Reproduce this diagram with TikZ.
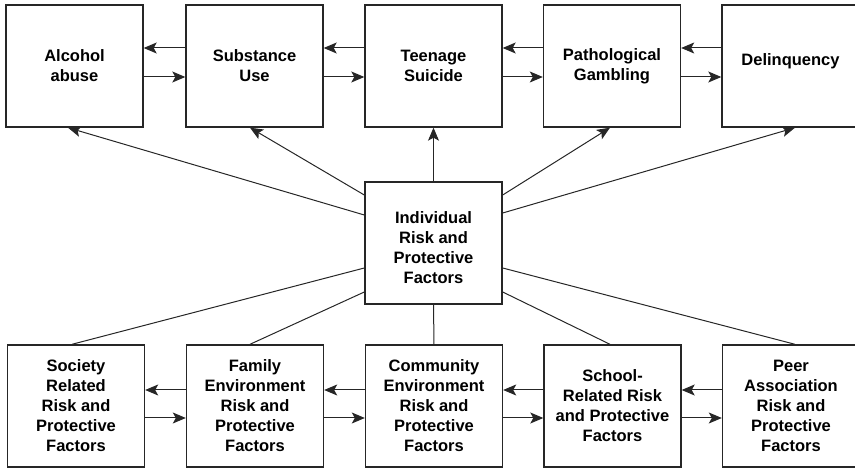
\documentclass[tikz,border=0pt]{standalone}
\usepackage{fontspec}
\setmainfont{Liberation Sans}
\usetikzlibrary{arrows.meta}
\begin{document}
\begin{tikzpicture}[x=1pt,y=-1pt,
  box/.style={draw=black!85,line width=1.4pt,minimum width=137pt,minimum height=122pt,inner sep=0pt,
    align=center,font=\fontsize{16.5}{20}\selectfont\bfseries},
  txt/.style={inner sep=0pt,align=center,font=\fontsize{16.5}{20}\selectfont\bfseries},
  arr/.style={draw=black!85,line width=1pt,-{Stealth[length=13pt,width=11pt,inset=3pt]}},
  ln/.style={draw=black!85,line width=1pt}]
\useasboundingbox (0,0) rectangle (855,470);
% top row
\node[box] (alc) at (74.5,66) {Alcohol\\abuse};
\node[box] (sub) at (254.5,66) {Substance\\Use};
\node[box] (sui) at (433.5,66) {Teenage\\Suicide};
\node[box] (gam) at (612,66) {Pathological\\Gambling};
\node[box] (del) at (790.5,66) {Delinquency\\[-8pt]};
% center
\node[box] (ind) at (433.5,243) {};
\node[txt] (indt) at (433.5,248) {Individual\\Risk and\\Protective\\Factors};
% bottom row
\node[box] (soc) at (76,406) {Society\\Related\\Risk and\\Protective\\Factors};
\node[box] (fam) at (255,406) {Family\\Environment\\Risk and\\Protective\\Factors};
\node[box] (com) at (434,406) {Community\\Environment\\Risk and\\Protective\\Factors};
\node[box] (sch) at (612.5,406) {School-\\Related Risk\\and Protective\\Factors};
\node[box] (peer) at (791,406) {Peer\\Association\\Risk and\\Protective\\Factors};
% top horizontal arrows
\foreach \a/\b in {alc/sub,sub/sui,sui/gam,gam/del}{
  \draw[arr] (\b.west |- {(0,48)}) -- (\a.east |- {(0,48)});
  \draw[arr] (\a.east |- {(0,77)}) -- (\b.west |- {(0,77)});
}
% bottom horizontal arrows
\foreach \a/\b in {soc/fam,fam/com,com/sch,sch/peer}{
  \draw[arr] (\b.west |- {(0,390)}) -- (\a.east |- {(0,390)});
  \draw[arr] (\a.east |- {(0,418)}) -- (\b.west |- {(0,418)});
}
% center to top
\draw[arr] (ind.west |- {(0,215)}) -- (alc.south -| {(68,0)});
\draw[arr] (ind.west |- {(0,195)}) -- (sub.south -| {(250,0)});
\draw[arr] (ind.north) -- (sui.south);
\draw[arr] (ind.east |- {(0,195)}) -- (gam.south -| {(610,0)});
\draw[arr] (ind.east |- {(0,213)}) -- (del.south -| {(795,0)});
% center to bottom
\draw[ln] (ind.west |- {(0,268)}) -- (soc.north -| {(72,0)});
\draw[ln] (ind.west |- {(0,292)}) -- (fam.north -| {(250,0)});
\draw[ln] (ind.south) -- (com.north);
\draw[ln] (ind.east |- {(0,292)}) -- (sch.north -| {(610,0)});
\draw[ln] (ind.east |- {(0,268)}) -- (peer.north -| {(795,0)});
\end{tikzpicture}
\end{document}
